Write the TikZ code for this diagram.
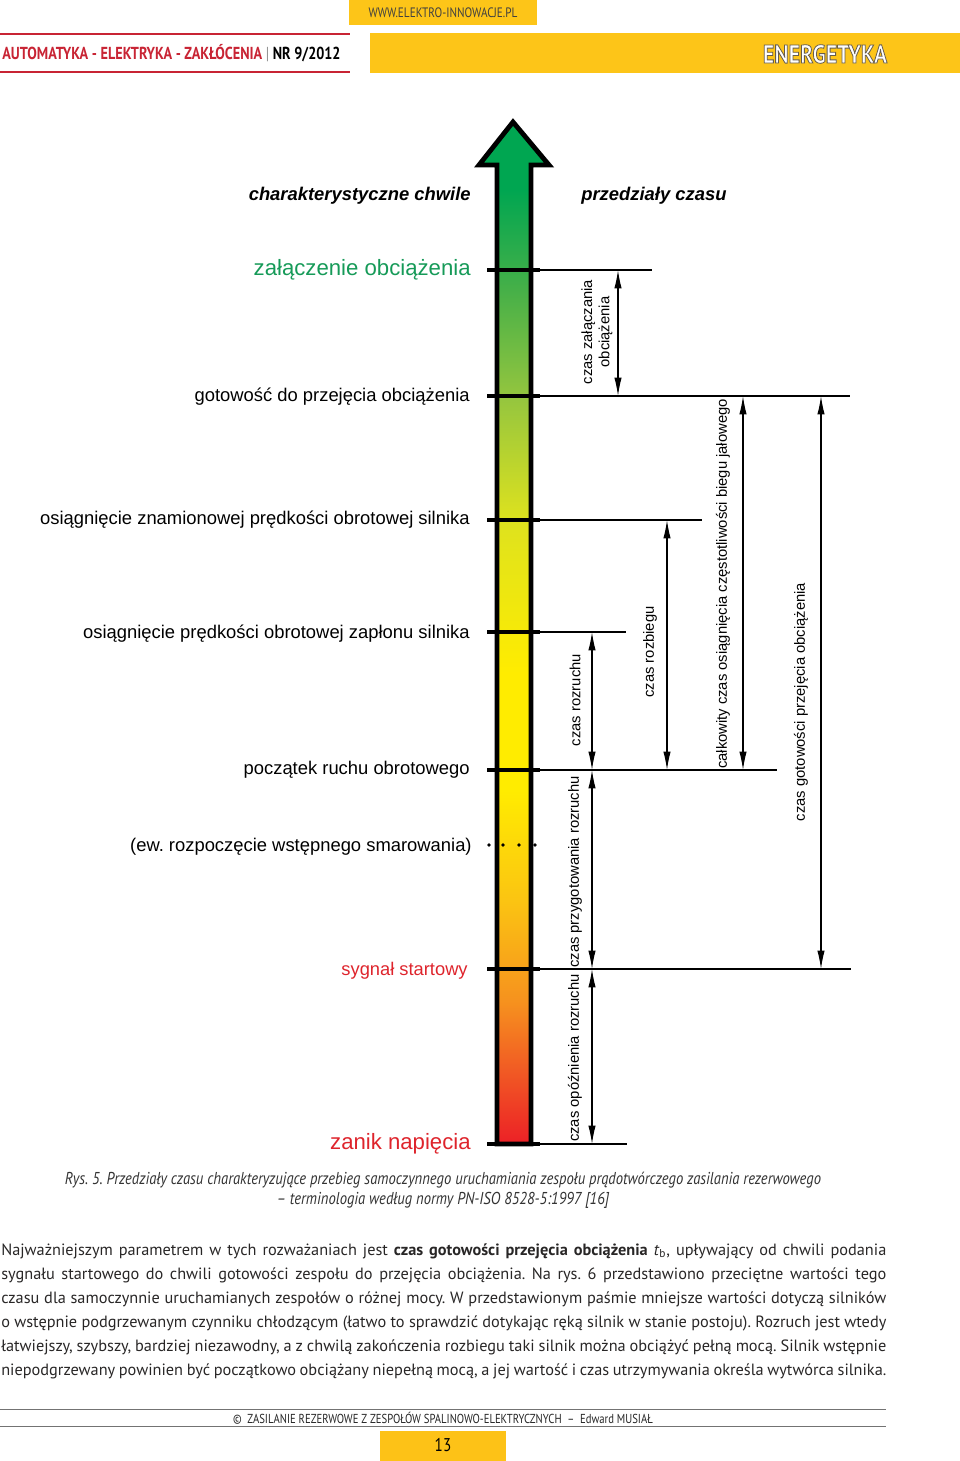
\documentclass[tikz,border=0pt]{standalone}
\usepackage{fontspec}
\setmainfont{PT Sans}
\newfontfamily\arialfont{Liberation Sans}
\newfontfamily\narrowfont[FakeStretch=0.82]{PT Sans}
\newfontfamily\captionfont[FakeStretch=0.85]{PT Sans}
\usetikzlibrary{arrows.meta, positioning, calc}
\usepackage{xcolor}
\frenchspacing

\definecolor{barYellow}{RGB}{253,197,24}
\definecolor{headRed}{RGB}{200,36,52}
\definecolor{loadGreen}{RGB}{22,154,88}
\definecolor{startRed}{RGB}{222,36,44}
\definecolor{bodyGray}{RGB}{40,38,38}
% shaft colours, bottom to top
\definecolor{gA}{RGB}{236,32,38}
\definecolor{gB}{RGB}{241,90,36}
\definecolor{gC}{RGB}{246,146,30}
\definecolor{gD}{RGB}{251,196,18}
\definecolor{gE}{RGB}{255,236,0}
\definecolor{gF}{RGB}{222,226,30}
\definecolor{gG}{RGB}{150,198,62}
\definecolor{gH}{RGB}{70,176,72}
\definecolor{gI}{RGB}{0,166,81}
\pgfdeclareverticalshading{shaftshade}{100bp}{color(0bp)=(gA); color(25bp)=(gA); color(28.6bp)=(gB);
  color(32bp)=(gC); color(36.9bp)=(gD); color(42.3bp)=(gE); color(48bp)=(gE); color(55.5bp)=(gF);
  color(61.4bp)=(gG); color(66.8bp)=(gH); color(71.7bp)=(gI); color(100bp)=(gI)}

% one justified line of the body text
\newcommand{\bodyline}[1]{\makebox[193.6mm][s]{\frenchspacing\spaceskip=0.24em plus 0.6em minus 0.1em #1}}

\begin{document}
\begin{tikzpicture}[
  x=0.21875mm, y=-0.21875mm,
  moment/.style={anchor=east, inner sep=0pt, font=\arialfont\fontsize{11.45}{13}\selectfont},
  span/.style={rotate=90, inner sep=0pt, align=center, font=\arialfont\fontsize{9.2}{10.8}\selectfont},
  colhead/.style={inner sep=0pt, font=\arialfont\bfseries\itshape\fontsize{11.45}{13}\selectfont},
  tick/.style={line width=3pt},
  level/.style={line width=0.75pt},
  dim/.style={{Latex[length=4mm,width=1.6mm]}-{Latex[length=4mm,width=1.6mm]}, line width=0.7pt}
]
\useasboundingbox (0,0) rectangle (960,1461);

% Header
\fill[barYellow] (349,0) rectangle (537,25);
\node[inner sep=0pt, text=black!75, font=\narrowfont\fontsize{8.5}{10}\selectfont] (web) at (443,13) {WWW.ELEKTRO-INNOWACJE.PL};
\draw[headRed, line width=0.8pt] (0,34) -- (350,34);
\draw[headRed, line width=0.8pt] (0,72) -- (350,72);
\node[anchor=west, inner sep=0pt, font=\narrowfont\bfseries\fontsize{10.8}{12}\selectfont] (journal) at (2,53)
  {\textcolor{headRed}{AUTOMATYKA - ELEKTRYKA - ZAKŁÓCENIA} \textcolor{black!45}{\mdseries|} NR 9/2012};
\fill[barYellow] (370,33) rectangle (960,73);

% Big arrow (time axis)
\shadedraw[shading=shaftshade, line width=3pt, miter limit=10]
  (497,1144) -- (497,165) -- (479,165) -- (513,122) -- (549,165) -- (531,165) -- (531,1144) -- cycle;

% Column headings
\node[colhead, anchor=east] (h-chwile) at (471,196) {charakterystyczne chwile};
\node[colhead, anchor=west] (h-czas) at (581,196) {przedziały czasu};

% Level marks on the shaft
\coordinate (zal) at (487,270);
\coordinate (got) at (487,396);
\coordinate (znam) at (487,520);
\coordinate (zap) at (487,632);
\coordinate (pocz) at (487,770);
\coordinate (syg) at (487,969);
\coordinate (zanik) at (487,1144);
\coordinate (shaftR) at (540,0);

% Right ends of the level lines
\coordinate (zal-end) at (652,270);
\coordinate (got-end) at (850,396);
\coordinate (znam-end) at (702,520);
\coordinate (zap-end) at (626,632);
\coordinate (pocz-end) at (777,770);
\coordinate (syg-end) at (851,969);
\coordinate (zanik-end) at (627,1144);

% Ticks and level lines
\draw[tick] (zal) -- (zal -| shaftR);
\draw[level] (zal -| shaftR) -- (zal-end);
\draw[tick] (got) -- (got -| shaftR);
\draw[level] (got -| shaftR) -- (got-end);
\draw[tick] (znam) -- (znam -| shaftR);
\draw[level] (znam -| shaftR) -- (znam-end);
\draw[tick] (zap) -- (zap -| shaftR);
\draw[level] (zap -| shaftR) -- (zap-end);
\draw[tick] (pocz) -- (pocz -| shaftR);
\draw[level] (pocz -| shaftR) -- (pocz-end);
\draw[tick] (syg) -- (syg -| shaftR);
\draw[level] (syg -| shaftR) -- (syg-end);
\draw[tick] (zanik) -- (zanik -| shaftR);
\draw[level] (zanik -| shaftR) -- (zanik-end);

% Optional lubrication: dots only
\foreach \dx in {489,503,519,535}
  \fill (\dx,845) circle (1.9);

% Moments (left side)
\node[moment, text=loadGreen, font=\arialfont\fontsize{13.8}{15}\selectfont] (l-zal) at (471,270) {załączenie obciążenia};
\node[moment] (l-got) at (470,397) {gotowość do przejęcia obciążenia};
\node[moment] (l-znam) at (470,520) {osiągnięcie znamionowej prędkości obrotowej silnika};
\node[moment] (l-zap) at (470,634) {osiągnięcie prędkości obrotowej zapłonu silnika};
\node[moment] (l-pocz) at (470,770) {początek ruchu obrotowego};
\node[moment] (l-smar) at (472,847) {(ew. rozpoczęcie wstępnego smarowania)};
\node[moment, text=startRed, font=\arialfont\fontsize{11.4}{13}\selectfont] (l-syg) at (468,971) {sygnał startowy};
\node[moment, text=startRed, font=\arialfont\fontsize{13.8}{15}\selectfont] (l-zanik) at (471,1144) {zanik napięcia};

% Time intervals (right side)
\coordinate (colA) at (618,0);
\coordinate (colB) at (592,0);
\coordinate (colC) at (667,0);
\coordinate (colD) at (743,0);
\coordinate (colE) at (821,0);

\draw[dim] (zal -| colA) -- (got -| colA);
\draw[dim] (zap -| colB) -- (pocz -| colB);
\draw[dim] (pocz -| colB) -- (syg -| colB);
\draw[dim] (syg -| colB) -- (zanik -| colB);
\draw[dim] (znam -| colC) -- (pocz -| colC);
\draw[dim] (got -| colD) -- (pocz -| colD);
\draw[dim] (got -| colE) -- (syg -| colE);

\node[span] (t-zal) at (597,332) {czas załączania\\obciążenia};
\node[span] (t-rozr) at (575,700) {czas rozruchu};
\node[span] (t-rozb) at (650,652) {czas rozbiegu};
\node[span] (t-jal) at (723,584) {całkowity czas osiągnięcia częstotliwości biegu jałowego};
\node[span] (t-got) at (801,702) {czas gotowości przejęcia obciążenia};
\node[span] (t-przyg) at (575,872) {czas przygotowania rozruchu};
\node[span] (t-opozn) at (575,1058) {czas opóźnienia rozruchu};

% Caption
\node[align=center, inner sep=0pt, text=black!80, font=\captionfont\itshape\fontsize{10.7}{12.4}\selectfont] (caption) at (443,1190)
  {Rys. 5. Przedziały czasu charakteryzujące przebieg samoczynnego uruchamiania zespołu prądotwórczego zasilania rezerwowego\\
   – terminologia według normy PN-ISO 8528-5:1997 [16]};

% Body text
\node[anchor=north west, inner sep=0pt, text width=193.6mm, align=left, text=bodyGray,
      font=\fontsize{10.15}{14.94}\selectfont] (body) at (1,1243)
  {\bodyline{Najważniejszym parametrem w tych rozważaniach jest \textbf{czas gotowości przejęcia obciążenia} \textit{t}\textsubscript{b}, upływający od chwili podania}\\
   \bodyline{sygnału startowego do chwili gotowości zespołu do przejęcia obciążenia. Na rys.~6 przedstawiono przeciętne wartości tego}\\
   \bodyline{czasu dla samoczynnie uruchamianych zespołów o różnej mocy. W przedstawionym paśmie mniejsze wartości dotyczą silników}\\
   \bodyline{o wstępnie podgrzewanym czynniku chłodzącym (łatwo to sprawdzić dotykając ręką silnik w stanie postoju). Rozruch jest wtedy}\\
   \bodyline{łatwiejszy, szybszy, bardziej niezawodny, a z chwilą zakończenia rozbiegu taki silnik można obciążyć pełną mocą. Silnik wstępnie}\\
   \bodyline{niepodgrzewany powinien być początkowo obciążany niepełną mocą, a jej wartość i czas utrzymywania określa wytwórca silnika.}};

% Footer
\draw[black!55, line width=0.6pt] (0,1409) -- (886,1409);
\draw[black!55, line width=0.6pt] (0,1426) -- (886,1426);
\node[inner sep=0pt, text=black!85, font=\narrowfont\fontsize{8.1}{9}\selectfont] (foot) at (443,1418)
  {\textcopyright\ \ ZASILANIE REZERWOWE Z ZESPOŁÓW SPALINOWO-ELEKTRYCZNYCH\ \ –\ \ Edward MUSIAŁ};
\fill[barYellow!95!orange] (380,1431) rectangle (506,1461);
\node[inner sep=0pt, font=\narrowfont\fontsize{11.5}{13}\selectfont] (page) at (443,1445) {13};

% Section name, outlined white letters
\node[inner sep=0pt, text=white, font=\captionfont\bfseries\fontsize{16}{18}\selectfont] (section) at (825,54)
  {\special{pdf:code 2 Tr 0.5 w 0.4 0.36 0.3 RG}ENERGETYKA\special{pdf:code 0 Tr 0 0 0 RG}};
\end{tikzpicture}
\end{document}
